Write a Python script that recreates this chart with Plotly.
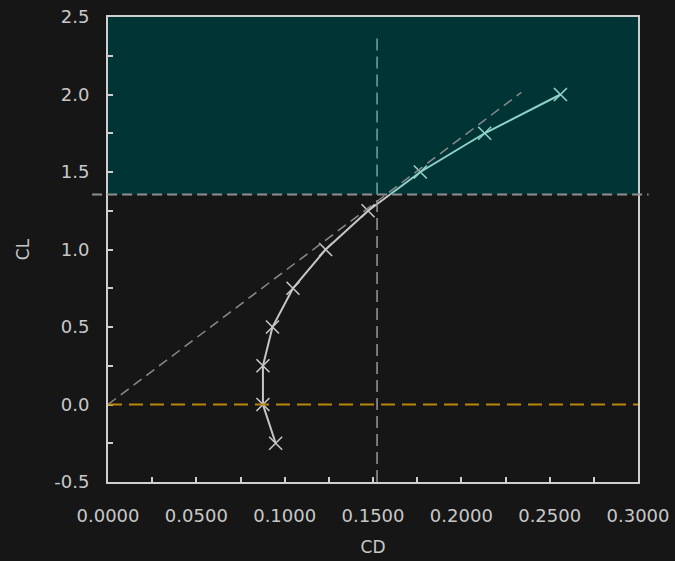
import numpy as np
import plotly.graph_objects as go

# Drag polar: lift coefficient vs drag coefficient
cl = [-0.25, 0.0, 0.25, 0.5, 0.75, 1.0, 1.25, 1.5, 1.75, 2.0]
cd = [0.0949, 0.0877, 0.0877, 0.0931, 0.1047, 0.1232, 0.1472, 0.1768, 0.2132, 0.2561]

# Reference levels
cl_limit = 1.355          # horizontal limit line / shaded band start
cd_ref = 0.1523           # vertical reference line
tangent_cd = [0.0, 0.234]  # tangent line from origin
tangent_cl = [0.0, 2.014]

x_range = [0.0, 0.3]
y_range = [-0.5, 2.5]
x_ticks = [0.0, 0.05, 0.10, 0.15, 0.20, 0.25, 0.30]
y_ticks = [-0.5, 0.0, 0.5, 1.0, 1.5, 2.0, 2.5]

BG = "#161616"
TEAL = "#013434"
AXIS = "#cfcfcf"
TEXT = "#c8c8c8"
LINE_LO = "#c6c6c6"
LINE_HI = "#8fd2c8"
FONT = "DejaVu Sans"

# split polar into the part below and above the limit line
cd_a = np.array(cd)
cl_a = np.array(cl)
k = int(np.argmax(cl_a > cl_limit))
t = (cl_limit - cl_a[k - 1]) / (cl_a[k] - cl_a[k - 1])
cd_cross = cd_a[k - 1] + t * (cd_a[k] - cd_a[k - 1])
lo_x = list(cd_a[:k]) + [cd_cross]
lo_y = list(cl_a[:k]) + [cl_limit]
hi_x = [cd_cross] + list(cd_a[k:])
hi_y = [cl_limit] + list(cl_a[k:])

fig = go.Figure()
fig.add_trace(go.Scatter(x=lo_x, y=lo_y, mode="lines",
                         line=dict(color=LINE_LO, width=2), showlegend=False,
                         hoverinfo="skip"))
fig.add_trace(go.Scatter(x=hi_x, y=hi_y, mode="lines",
                         line=dict(color=LINE_HI, width=2), showlegend=False,
                         hoverinfo="skip"))
fig.add_trace(go.Scatter(
    x=cd, y=cl, mode="markers", showlegend=False,
    marker=dict(symbol="x-thin-open", size=13,
                color=[LINE_HI if v > cl_limit else LINE_LO for v in cl],
                line=dict(width=1.6)),
))

shapes = [
    # shaded region above the limit
    dict(type="rect", xref="x", yref="y", x0=x_range[0], x1=x_range[1],
         y0=cl_limit, y1=y_range[1], fillcolor=TEAL, line=dict(width=0),
         layer="below"),
    # vertical reference line (below and above the limit)
    dict(type="line", xref="x", yref="y", x0=cd_ref, x1=cd_ref,
         y0=y_range[0], y1=cl_limit,
         line=dict(color="#9a9a9a", width=1.5, dash="12px,6px"), layer="above"),
    dict(type="line", xref="x", yref="y", x0=cd_ref, x1=cd_ref,
         y0=cl_limit, y1=2.4,
         line=dict(color="#6aa8a2", width=1.5, dash="12px,6px"), layer="above"),
    # tangent from origin
    dict(type="line", xref="x", yref="y", x0=tangent_cd[0], x1=tangent_cd[1],
         y0=tangent_cl[0], y1=tangent_cl[1],
         line=dict(color="#8a8a8a", width=1.5, dash="10px,6px"), layer="above"),
    # zero-lift line
    dict(type="line", xref="x", yref="y", x0=x_range[0], x1=x_range[1],
         y0=0, y1=0,
         line=dict(color="#b8860b", width=2, dash="14px,7px"), layer="above"),
    # limit line, running slightly past the frame
    dict(type="line", xref="paper", yref="y", x0=-0.03, x1=1.02,
         y0=cl_limit, y1=cl_limit,
         line=dict(color="#8f8f8f", width=2, dash="10px,5px"), layer="above"),
]

axis_common = dict(
    showgrid=False, zeroline=False, showline=True, linecolor=AXIS, linewidth=2,
    mirror=True, ticks="inside", ticklen=5, tickwidth=1.5, tickcolor=AXIS,
    tickfont=dict(family=FONT, size=18, color=TEXT), automargin=False,
)

fig.update_layout(
    width=675, height=561,
    margin=dict(l=108, r=37, t=17, b=79),
    paper_bgcolor=BG, plot_bgcolor=BG,
    shapes=shapes,
    xaxis=dict(range=x_range, tickvals=x_ticks,
               ticktext=[f"{v:.4f}" for v in x_ticks],
               minor=dict(dtick=0.025, ticks="inside", ticklen=5,
                          tickcolor=AXIS, tickwidth=1.5),
               ticklabelstandoff=16,
               title=dict(text="CD", font=dict(family=FONT, size=17, color=TEXT),
                          standoff=17),
               **axis_common),
    yaxis=dict(range=y_range, tickvals=y_ticks,
               ticktext=[f"{v:.1f}" for v in y_ticks],
               minor=dict(dtick=0.25, ticks="inside", ticklen=5,
                          tickcolor=AXIS, tickwidth=1.5),
               ticklabelstandoff=13,
               title=dict(text="CL", font=dict(family=FONT, size=17, color=TEXT),
                          standoff=20),
               **axis_common),
)

fig.write_html("out.html")
